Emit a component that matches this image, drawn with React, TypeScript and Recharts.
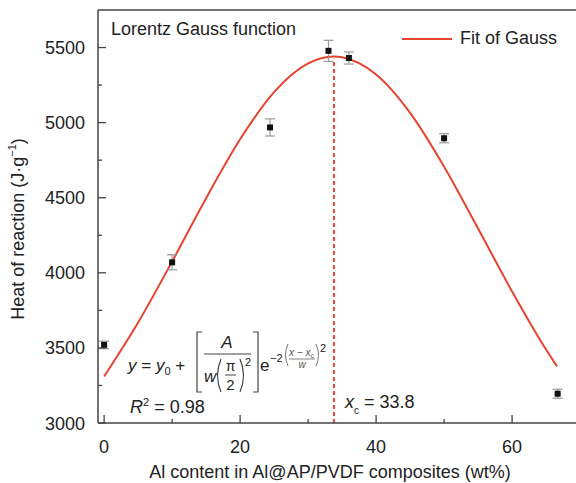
import React from "react";
import {
  ComposedChart,
  Line,
  Scatter,
  ErrorBar,
  XAxis,
  YAxis,
  ReferenceLine,
  Legend,
} from "recharts";

// Measured points (Al content wt%, heat of reaction J/g, error)
const contentPct = [0, 10, 24.4, 33, 36, 50, 66.7];
const heatValues = [3520, 4070, 4968, 5478, 5430, 4896, 3195];
const heatErrors = [25, 50, 57, 70, 40, 30, 30];

// Gauss fit curve
const fitX = [0, 5, 10, 15, 20, 25, 30, 33.8, 35, 40, 45, 50, 55, 60, 65, 66.6];
const fitY = [3310, 3669, 4075, 4497, 4889, 5203, 5394, 5440, 5435, 5320, 5065, 4707, 4295, 3876, 3489, 3377];

const xTicks = [0, 10, 20, 30, 40, 50, 60];
const xMajor = [0, 20, 40, 60];
const yTicks = [3000, 3250, 3500, 3750, 4000, 4250, 4500, 4750, 5000, 5250, 5500];
const yMajor = [3000, 3500, 4000, 4500, 5000, 5500];
const xc = 33.8;

const pointData = contentPct.map((x, i) => ({ x, y: heatValues[i], err: heatErrors[i] }));
const fitData = fitX.map((x, i) => ({ x, fit: fitY[i] }));

const FONT = "'Liberation Sans', Arial, Helvetica, sans-serif";
const TXT = "#222";
const AX = "#444";

const XTick = (props: any) => {
  const { x, y, payload } = props;
  const major = xMajor.includes(payload.value);
  return (
    <g>
      <line x1={x} y1={y} x2={x} y2={y - (major ? 8 : 4)} stroke={AX} strokeWidth={1.3} />
      {major && (
        <text x={x} y={y + 30} textAnchor="middle" fontSize={18} fontFamily={FONT} fill={TXT}>
          {payload.value}
        </text>
      )}
    </g>
  );
};

const YTick = (props: any) => {
  const { x, y, payload } = props;
  const major = yMajor.includes(payload.value);
  return (
    <g>
      <line x1={x} y1={y} x2={x + (major ? 8 : 4)} y2={y} stroke={AX} strokeWidth={1.3} />
      {major && (
        <text x={x - 13} y={y + 6.5} textAnchor="end" fontSize={18} fontFamily={FONT} fill={TXT}>
          {payload.value}
        </text>
      )}
    </g>
  );
};

const Square = (props: any) => {
  const { cx, cy } = props;
  return <rect x={cx - 3} y={cy - 3} width={6} height={6} fill="#111" />;
};

const LegendContent = () => (
  <div style={{ display: "flex", alignItems: "center", fontFamily: FONT, fontSize: 18, color: TXT, whiteSpace: "nowrap" }}>
    <svg width={50} height={4} style={{ display: "block" }}>
      <line x1={0} y1={2} x2={50} y2={2} stroke="#e8432e" strokeWidth={2} />
    </svg>
    <span style={{ marginLeft: 8 }}>Fit of Gauss</span>
  </div>
);

const Annotations = () => (
  <g fontFamily={FONT} fill={TXT}>
    <text x={111} y={35} fontSize={18}>Lorentz Gauss function</text>
    {/* axis titles */}
    <text x={330} y={478} fontSize={18} textAnchor="middle">
      Al content in Al@AP/PVDF composites (wt%)
    </text>
    <text x={0} y={0} fontSize={18} textAnchor="middle" transform="translate(24 229) rotate(-90)">
      Heat of reaction (J·g<tspan fontSize={11} dy={-8}>−1</tspan><tspan dy={8}>)</tspan>
    </text>
    {/* formula */}
    <text x={128} y={371} fontSize={17}>
      <tspan fontStyle="italic">y</tspan> = <tspan fontStyle="italic">y</tspan>
      <tspan fontSize={11} dy={4}>0</tspan>
      <tspan dy={-4}> +</tspan>
    </text>
    <path d="M202 332 L197 332 L197 392 L202 392" fill="none" stroke={AX} strokeWidth={1.2} />
    <path d="M253 332 L258 332 L258 392 L253 392" fill="none" stroke={AX} strokeWidth={1.2} />
    <text x={227} y={348} fontSize={17} fontStyle="italic" textAnchor="middle">A</text>
    <line x1={204} y1={354} x2={251} y2={354} stroke={AX} strokeWidth={1} />
    <text x={204} y={382} fontSize={17} fontStyle="italic">w</text>
    <path d="M221 359 Q214 375.5 221 392" fill="none" stroke={AX} strokeWidth={1.2} />
    <path d="M240 359 Q247 375.5 240 392" fill="none" stroke={AX} strokeWidth={1.2} />
    <text x={230.5} y={371} fontSize={14} textAnchor="middle">π</text>
    <line x1={225} y1={375} x2={236} y2={375} stroke={AX} strokeWidth={1} />
    <text x={230.5} y={390} fontSize={15} textAnchor="middle">2</text>
    <text x={245} y={366} fontSize={11}>2</text>
    <text x={260} y={371} fontSize={17}>e</text>
    <text x={270} y={362} fontSize={11}>−2</text>
    <path d="M288 344 Q283 355 288 366" fill="none" stroke="#666" strokeWidth={0.9} />
    <path d="M316 344 Q321 355 316 366" fill="none" stroke="#666" strokeWidth={0.9} />
    <text x={289} y={356} fontSize={10} fontStyle="italic" fill="#555">
      x − x<tspan fontSize={7} dy={2} fontStyle="normal">c</tspan>
    </text>
    <line x1={289} y1={359} x2={315} y2={359} stroke="#666" strokeWidth={0.8} />
    <text x={302} y={368} fontSize={10} fontStyle="italic" textAnchor="middle" fill="#555">w</text>
    <text x={320} y={352} fontSize={11}>2</text>
    {/* R squared */}
    <text x={130} y={413} fontSize={18}>
      <tspan fontStyle="italic">R</tspan>
      <tspan fontSize={11} dy={-7}>2</tspan>
      <tspan dy={7}> = 0.98</tspan>
    </text>
    {/* xc */}
    <text x={345} y={408} fontSize={18}>
      <tspan fontStyle="italic">x</tspan>
      <tspan fontSize={10} dy={6}>c</tspan>
      <tspan dy={-6}> = 33.8</tspan>
    </text>
  </g>
);

export default function App() {
  return (
    <div style={{ position: "absolute", left: 0, top: 0, width: 576, height: 483, overflow: "hidden", background: "#fff" }}>
      <ComposedChart width={576} height={483} margin={{ top: 10, right: 0, bottom: 0, left: 0 }}>
        <XAxis
          type="number"
          dataKey="x"
          domain={[-0.9, 69.4]}
          ticks={xTicks}
          interval={0}
          allowDataOverflow
          height={60}
          tickSize={0}
          tickMargin={0}
          tickLine={false}
          tick={<XTick />}
          axisLine={{ stroke: AX, strokeWidth: 1.5 }}
        />
        <YAxis
          type="number"
          domain={[3000, 5750]}
          ticks={yTicks}
          interval={0}
          allowDataOverflow
          width={98}
          tickSize={0}
          tickMargin={0}
          tickLine={false}
          tick={<YTick />}
          axisLine={{ stroke: AX, strokeWidth: 1.5 }}
        />
        <ReferenceLine y={5750} stroke={AX} strokeWidth={1.5} />
        <ReferenceLine
          segment={[{ x: xc, y: 3000 }, { x: xc, y: 5425 }]}
          stroke="#e8432e"
          strokeWidth={2}
          strokeDasharray="4 3"
        />
        <Line
          data={fitData}
          dataKey="fit"
          type="monotone"
          stroke="#e8432e"
          strokeWidth={2}
          dot={false}
          activeDot={false}
          isAnimationActive={false}
          name="Fit of Gauss"
        />
        <Scatter data={pointData} dataKey="y" shape={<Square />} isAnimationActive={false}>
          <ErrorBar dataKey="err" direction="y" width={5} stroke="#999" strokeWidth={1.2} />
        </Scatter>
        <Legend
          layout="horizontal"
          verticalAlign="middle"
          align="center"
          content={<LegendContent />}
          wrapperStyle={{ position: "absolute", top: 28, left: 402, width: 170 }}
        />
        <Annotations />
      </ComposedChart>
    </div>
  );
}
